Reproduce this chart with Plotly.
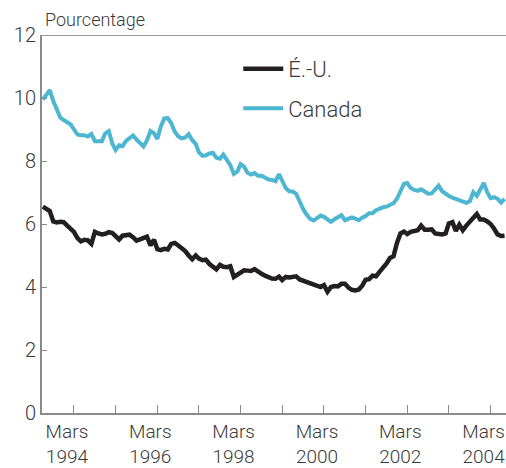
import pandas as pd
import plotly.graph_objects as go

# monthly series (June 1993 - July 2004)
start_month = "1993-06-01"

canada = [
    9.95, 10.1, 10.25, 9.9, 9.6, 9.38, 9.3, 9.23, 9.16,
    9.0, 8.84, 8.82, 8.82, 8.78, 8.86, 8.63, 8.62, 8.63, 8.88, 8.95, 8.55,
    8.35, 8.5, 8.47, 8.64, 8.74, 8.81, 8.68, 8.56, 8.46, 8.65, 8.95, 8.88,
    8.7, 9.1, 9.35, 9.36, 9.2, 8.93, 8.78, 8.72, 8.75, 8.85, 8.66, 8.54,
    8.27, 8.16, 8.18, 8.24, 8.26, 8.1, 8.07, 8.2, 8.05, 7.87, 7.59, 7.67,
    7.9, 7.82, 7.63, 7.57, 7.62, 7.53, 7.53, 7.48, 7.41, 7.4, 7.36, 7.58,
    7.38, 7.14, 7.04, 7.03, 6.96, 6.69, 6.47, 6.3, 6.16, 6.11, 6.18, 6.27,
    6.23, 6.13, 6.07, 6.15, 6.23, 6.28, 6.12, 6.15, 6.21, 6.17, 6.12, 6.21,
    6.25, 6.34, 6.34, 6.44, 6.49, 6.53, 6.55, 6.62, 6.66, 6.8, 7.05, 7.28,
    7.3, 7.14, 7.08, 7.05, 7.1, 7.02, 6.96, 6.97, 7.1, 7.22, 7.04, 6.95,
    6.89, 6.84, 6.8, 6.78, 6.73, 6.67, 6.72, 7.01, 6.89, 7.1, 7.3, 7.0,
    6.82, 6.85, 6.8, 6.68, 6.8,
]

usa = [
    6.55, 6.48, 6.41, 6.08, 6.05, 6.07, 6.06, 5.95, 5.85,
    5.75, 5.55, 5.45, 5.5, 5.48, 5.37, 5.75, 5.7, 5.67, 5.69, 5.74, 5.71,
    5.62, 5.51, 5.63, 5.63, 5.66, 5.58, 5.47, 5.51, 5.56, 5.6, 5.32, 5.5,
    5.2, 5.17, 5.21, 5.19, 5.37, 5.4, 5.32, 5.24, 5.14, 5.0, 4.88, 5.0,
    4.9, 4.85, 4.87, 4.73, 4.63, 4.56, 4.7, 4.64, 4.63, 4.66, 4.32, 4.4,
    4.47, 4.53, 4.52, 4.51, 4.57, 4.48, 4.42, 4.36, 4.31, 4.27, 4.26, 4.33,
    4.22, 4.32, 4.3, 4.32, 4.34, 4.24, 4.2, 4.15, 4.1, 4.07, 4.03, 4.0,
    4.06, 3.85, 4.0, 4.03, 4.02, 4.1, 4.1, 3.98, 3.91, 3.89, 3.92, 4.05,
    4.23, 4.25, 4.36, 4.34, 4.48, 4.6, 4.75, 4.92, 4.98, 5.4, 5.7, 5.76,
    5.68, 5.75, 5.77, 5.8, 5.95, 5.82, 5.82, 5.83, 5.7, 5.67, 5.67, 5.7,
    6.02, 6.06, 5.78, 5.98, 5.8, 5.95, 6.07, 6.22, 6.32, 6.14, 6.14, 6.08,
    6.0, 5.85, 5.67, 5.62, 5.63,
]

tick_years = list(range(1994, 2005))
tick_labels = [f"Mars<br>{y}" if y % 2 == 0 else "" for y in tick_years]

months = pd.date_range(start_month, periods=len(canada), freq="MS")

FONT = "Roboto, 'Liberation Sans', Arial, sans-serif"
TEXT = "#3a3a3a"
AXIS = "#8a8a8a"

fig = go.Figure()
fig.add_trace(go.Scatter(x=months, y=usa, name="É.-U.", mode="lines",
                         line=dict(color="#231f20", width=4.5),
                         legendgroup="us"))
fig.add_trace(go.Scatter(x=months, y=canada, name="Canada", mode="lines",
                         line=dict(color="#4db6d1", width=4),
                         legendgroup="ca"))

# thin dark rule along the top of the frame
fig.add_shape(type="line", xref="paper", yref="y", x0=0, x1=1, y0=12, y1=12,
              line=dict(color="#333333", width=1))

fig.add_annotation(text="Pourcentage", xref="paper", yref="paper",
                   x=0.002, y=1.0, xanchor="left", yanchor="bottom", yshift=3,
                   showarrow=False, font=dict(size=18, color=TEXT))

fig.update_xaxes(
    range=["1993-05-25", "2004-07-14"],
    tickvals=[f"{y}-03-01" for y in tick_years], ticktext=tick_labels,
    ticks="inside", ticklen=8, tickwidth=1, tickcolor=AXIS,
    ticklabelshift=-7,
    showline=True, linecolor=AXIS, linewidth=2,
    showgrid=False, zeroline=False, automargin=False,
    tickfont=dict(size=19, color=TEXT),
)
fig.update_yaxes(
    range=[0, 12], tickvals=list(range(0, 13, 2)),
    ticks="inside", ticklen=5, tickwidth=1, tickcolor=AXIS,
    showline=True, linecolor=AXIS, linewidth=2,
    showgrid=False, zeroline=False, automargin=False,
    tickfont=dict(size=20, color=TEXT),
)

fig.update_layout(
    width=506, height=468,
    margin=dict(l=42, r=0, t=35, b=55),
    plot_bgcolor="white", paper_bgcolor="white",
    font=dict(family=FONT, color=TEXT, weight=300),
    legend=dict(x=0.423, y=0.966, xanchor="left", yanchor="top",
                traceorder="grouped", tracegroupgap=8, itemwidth=40,
                bgcolor="rgba(0,0,0,0)", font=dict(size=22, color=TEXT)),
)

fig.write_html("out.html", config={"displayModeBar": False},
               post_script="document.body.style.margin='0';")
